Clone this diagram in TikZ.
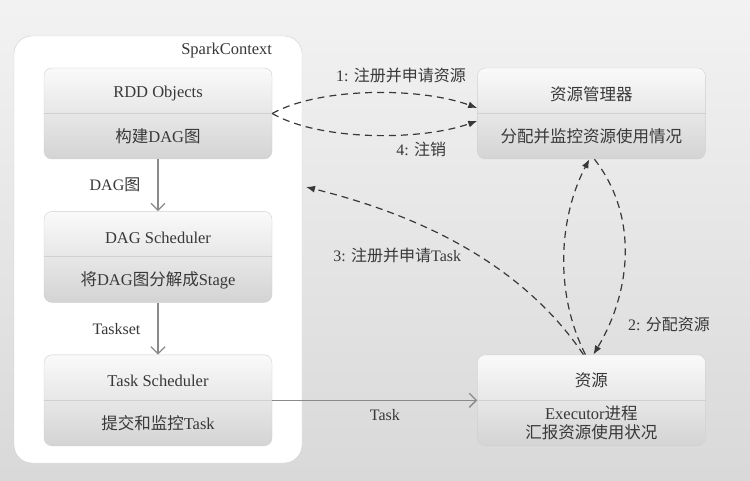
\documentclass[tikz,border=0pt]{standalone}
\usepackage{fontspec}
\setmainfont{Liberation Serif}
\newfontfamily\cjk{Noto Sans CJK SC}
\usetikzlibrary{arrows.meta, positioning, calc}
\newcommand{\zh}[1]{{\cjk #1}}

\definecolor{txtgray}{HTML}{383838}
\definecolor{boxline}{HTML}{D0D0D0}
\definecolor{flowgray}{HTML}{8A8A8A}

\tikzset{
  ctxbox/.style={draw=boxline, fill=white, rounded corners=18pt, minimum width=288pt, minimum height=427pt},
  stagebox/.style={draw=boxline, rounded corners=8pt, minimum width=228pt, minimum height=91pt, top color=black!2, bottom color=black!17},
  boxtext/.style={text=txtgray, font=\fontsize{16.5}{19}\selectfont, inner sep=0pt, align=center},
  steplabel/.style={text=txtgray, font=\fontsize{16}{19}\selectfont, inner sep=0pt},
  divline/.style={draw=boxline, line width=0.8pt},
  flowarr/.style={draw=flowgray, line width=1.3pt, -{Straight Barb[length=7pt, width=14pt]}},
  callarr/.style={draw=txtgray, line width=1.2pt, dash pattern=on 7pt off 5pt, -{Latex[length=9pt, width=7pt]}}
}

\begin{document}
\begin{tikzpicture}[x=1pt, y=1pt]
  \useasboundingbox (0,0) rectangle (750,480);
  \fill[top color=black!5, bottom color=black!15] (0,0) rectangle (750,480);

  % Nodes
  \node[ctxbox] (ctx) at (158,230.5) {};
  \node[boxtext, anchor=north east] (ctxname) at ($(ctx.north east)+(-30,-7)$) {SparkContext};

  \node[stagebox] (rdd) at (158,366.5) {};
  \node[stagebox, below=52pt of rdd] (dag) {};
  \node[stagebox, below=52pt of dag] (tsk) {};
  \node[stagebox, right=205pt of rdd] (rm) {};
  \node[stagebox, right=205pt of tsk] (res) {};

  \foreach \b in {rdd, dag, tsk, rm, res}
    \draw[divline] (\b.west) -- (\b.east);

  \node[boxtext] (rddA) at ($(rdd.center)+(0,19.5)$) {RDD Objects};
  \node[boxtext] (rddB) at ($(rdd.center)+(0,-23)$) {\zh{构建}DAG\zh{图}};
  \node[boxtext] (dagA) at ($(dag.center)+(0,19.5)$) {DAG Scheduler};
  \node[boxtext] (dagB) at ($(dag.center)+(0,-23)$) {\zh{将}DAG\zh{图分解成}Stage};
  \node[boxtext] (tskA) at ($(tsk.center)+(0,19.5)$) {Task Scheduler};
  \node[boxtext] (tskB) at ($(tsk.center)+(0,-23)$) {\zh{提交和监控}Task};
  \node[boxtext] (rmA) at ($(rm.center)+(0,19.5)$) {\zh{资源管理器}};
  \node[boxtext] (rmB) at ($(rm.center)+(0,-23)$) {\zh{分配并监控资源使用情况}};
  \node[boxtext] (resA) at ($(res.center)+(0,20)$) {\zh{资源}};
  \node[boxtext] (resB) at ($(res.center)+(0,-22.5)$) {Executor\zh{进程}\\\zh{汇报资源使用状况}};

  \coordinate (ctxin) at (306,293);

  % Arrows (inside the driver)
  \draw[flowarr] (rdd) -- node[steplabel, left=17pt] {DAG\zh{图}} (dag);
  \draw[flowarr] (dag) -- node[steplabel, left=17pt] {Taskset} (tsk);
  \draw[flowarr] (tsk) -- node[steplabel, below=8pt, pos=0.55] {Task} (res);

  % Arrows (register / allocate)
  \draw[callarr] (rdd.east) .. controls (320,393) and (420,393) .. node[steplabel, above=10pt, pos=0.63] {1: \zh{注册并申请资源}} ($(rm.west)+(0,5.5)$);
  \draw[callarr] (rdd.east) .. controls (320,339) and (420,339) .. node[steplabel, below=8pt, pos=0.72] {4: \zh{注销}} ($(rm.west)+(0,-7.5)$);
  \draw[callarr] ($(res.north)+(-6,0)$) .. controls (553,190) and (560,265) .. ($(rm.south)+(-2,0)$);
  \draw[callarr] ($(rm.south)+(3,0)$) .. controls (638,265) and (632,190) .. node[steplabel, right=19pt, pos=0.85] {2: \zh{分配资源}} ($(res.north)+(2,0)$);
  \draw[callarr] ($(res.north)+(-8,0)$) .. controls (540,190) and (460,255) .. node[steplabel, below=32pt, pos=0.78] {3: \zh{注册并申请}Task} (ctxin);
\end{tikzpicture}
\end{document}
